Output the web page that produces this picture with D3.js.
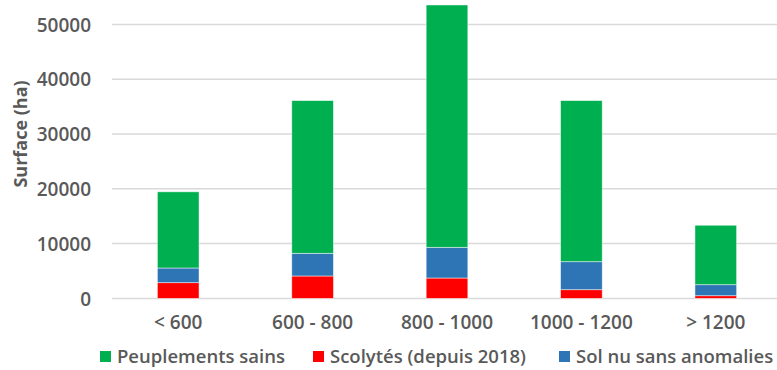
<!DOCTYPE html>
<html>
<head>
<meta charset="utf-8">
<script src="https://cdn.jsdelivr.net/npm/d3@7"></script>
<style>
  html, body { margin: 0; padding: 0; background: #fff; }
  svg { display: block; }
  text { font-family: "Open Sans", sans-serif; font-weight: 600; fill: #595959; }
</style>
</head>
<body>
<svg id="chart" width="777" height="370"></svg>
<script>
const categories = ["< 600", "600 - 800", "800 - 1000", "1000 - 1200", "> 1200"];
const seriesNames = ["Scolytés (depuis 2018)", "Sol nu sans anomalies", "Peuplements sains"];
const scolytes = [2870, 4090, 3720, 1590, 490];
const solNu = [2680, 4140, 5600, 5110, 2010];
const sains = [13900, 27870, 44225, 29400, 10850];
const yTicks = [0, 10000, 20000, 30000, 40000, 50000];
const legendOrder = ["Peuplements sains", "Scolytés (depuis 2018)", "Sol nu sans anomalies"];
const colors = {
  "Peuplements sains": "#00B050",
  "Scolytés (depuis 2018)": "#FF0000",
  "Sol nu sans anomalies": "#2E75B6"
};

const svg = d3.select("#chart");
const W = 777, H = 370;

const x = d3.scaleBand().domain(categories).range([111, 783]).paddingInner(0.69).paddingOuter(0.345);
const y = d3.scaleLinear().domain([0, 50000]).range([298.4, 24.4]);

// gridlines
svg.append("g").selectAll("line").data(yTicks).join("line")
  .attr("x1", 112).attr("x2", W)
  .attr("y1", d => y(d)).attr("y2", d => y(d))
  .attr("stroke", "#d9d9d9").attr("stroke-width", 1.5);

// y axis labels
const yAxis = d3.axisLeft(y).tickValues(yTicks).tickFormat(d3.format("d")).tickSize(0).tickPadding(0);
const yg = svg.append("g").attr("transform", "translate(91,0)").call(yAxis);
yg.select(".domain").remove();
yg.selectAll("text").attr("font-size", 19).attr("fill", "#595959")
  .style("font-family", "'Open Sans', sans-serif").style("font-weight", 600).attr("dy", "0.35em");

// x axis labels
const xAxis = d3.axisBottom(x).tickSize(0).tickPadding(0);
const xg = svg.append("g").attr("transform", "translate(0,315)").call(xAxis);
xg.select(".domain").remove();
xg.selectAll("text").attr("font-size", 19).attr("fill", "#595959")
  .style("font-family", "'Open Sans', sans-serif").style("font-weight", 600).attr("dy", "0.71em");

// stacked bars
const rows = categories.map((c, i) => ({
  cat: c,
  "Scolytés (depuis 2018)": scolytes[i],
  "Sol nu sans anomalies": solNu[i],
  "Peuplements sains": sains[i]
}));
const stack = d3.stack().keys(seriesNames)(rows);
svg.append("g").selectAll("g").data(stack).join("g")
  .attr("fill", d => colors[d.key])
  .selectAll("rect").data(d => d).join("rect")
  .attr("x", d => x(d.data.cat))
  .attr("width", x.bandwidth())
  .attr("y", d => y(d[1]))
  .attr("height", d => y(d[0]) - y(d[1]))
  .attr("stroke", "rgba(255,255,255,0.6)").attr("stroke-width", 0.8);

// y axis title
svg.append("text")
  .attr("transform", "translate(27,134) rotate(-90)")
  .attr("text-anchor", "middle")
  .attr("font-size", 18)
  .style("font-weight", 700)
  .text("Surface (ha)");

// legend
const legendX = [100, 313, 559];
const lg = svg.append("g").selectAll("g").data(legendOrder).join("g")
  .attr("transform", (d, i) => `translate(${legendX[i]},0)`);
lg.append("rect").attr("x", 0).attr("y", 351).attr("width", 11).attr("height", 11)
  .attr("fill", d => colors[d]);
lg.append("text").attr("x", 17).attr("y", 363).attr("font-size", 18.5).text(d => d);
</script>
</body>
</html>
